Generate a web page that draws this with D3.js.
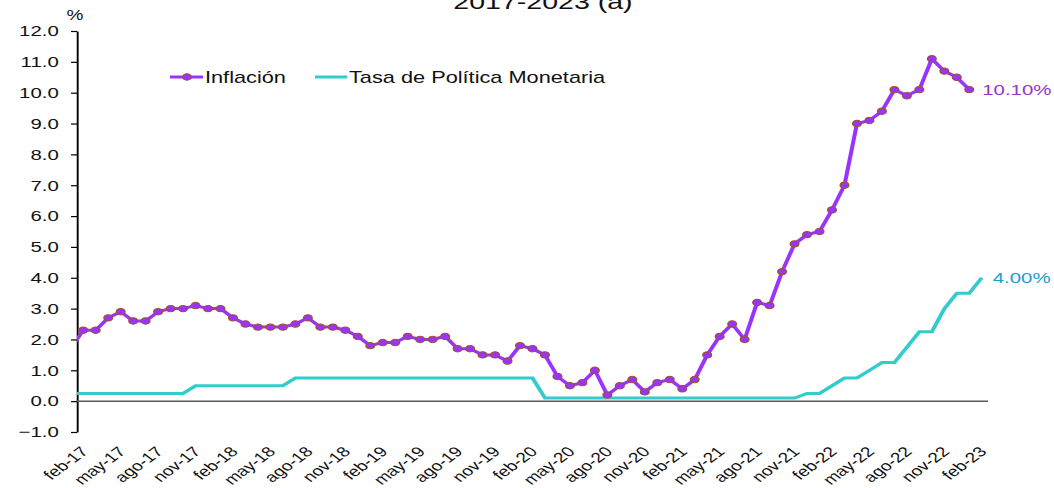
<!DOCTYPE html>
<html>
<head>
<meta charset="utf-8">
<script src="https://cdn.jsdelivr.net/npm/d3@7"></script>
<style>
  body { margin: 0; background: #fff; }
  text { font-family: "Liberation Sans", Arial, sans-serif; fill: #111; }
</style>
</head>
<body>
<script>
const svgWidth = 1054,
    svgHeight = 488,
    SX = 1.36; // the reference chart is stretched horizontally

// months from ene-17 to feb-23
const monthNames = ["ene", "feb", "mar", "abr", "may", "jun", "jul", "ago", "sep", "oct", "nov", "dic"];
const categories = [];
for (let yy = 17; yy <= 23; yy++) monthNames.forEach(m => categories.push(m + "-" + yy));
categories.length = 74;

const tickLabels = ["feb-17", "may-17", "ago-17", "nov-17", "feb-18", "may-18", "ago-18", "nov-18",
    "feb-19", "may-19", "ago-19", "nov-19", "feb-20", "may-20", "ago-20", "nov-20",
    "feb-21", "may-21", "ago-21", "nov-21", "feb-22", "may-22", "ago-22", "nov-22", "feb-23"];

const yTicks = [-1, 0, 1, 2, 3, 4, 5, 6, 7, 8, 9, 10, 11, 12];

// Inflación, ene-17 .. ene-23
const inflacion = [
    1.7, 2.3, 2.3, 2.7, 2.9, 2.6, 2.6, 2.9, 3.0, 3.0, 3.1, 3.0,
    3.0, 2.7, 2.5, 2.4, 2.4, 2.4, 2.5, 2.7, 2.4, 2.4, 2.3, 2.1,
    1.8, 1.9, 1.9, 2.1, 2.0, 2.0, 2.1, 1.7, 1.7, 1.5, 1.5, 1.3,
    1.8, 1.7, 1.5, 0.8, 0.5, 0.6, 1.0, 0.2, 0.5, 0.7, 0.3, 0.6,
    0.7, 0.4, 0.7, 1.5, 2.1, 2.5, 2.0, 3.2, 3.1, 4.2, 5.1, 5.4,
    5.5, 6.2, 7.0, 9.0, 9.1, 9.4, 10.1, 9.9, 10.1, 11.1, 10.7, 10.5,
    10.1
];

// Tasa de Política Monetaria, ene-17 .. feb-23
const tpm = [
    0.25, 0.25, 0.25, 0.25, 0.25, 0.25, 0.25, 0.25, 0.25, 0.25, 0.5, 0.5,
    0.5, 0.5, 0.5, 0.5, 0.5, 0.5, 0.75, 0.75, 0.75, 0.75, 0.75, 0.75,
    0.75, 0.75, 0.75, 0.75, 0.75, 0.75, 0.75, 0.75, 0.75, 0.75, 0.75, 0.75,
    0.75, 0.75, 0.1, 0.1, 0.1, 0.1, 0.1, 0.1, 0.1, 0.1, 0.1, 0.1,
    0.1, 0.1, 0.1, 0.1, 0.1, 0.1, 0.1, 0.1, 0.1, 0.1, 0.1, 0.25,
    0.25, 0.5, 0.75, 0.75, 1.0, 1.25, 1.25, 1.75, 2.25, 2.25, 3.0, 3.5,
    3.5, 4.0
];

const colInfl = "#9933ff",
    colMarker = "#a0522d",
    colTpm = "#33cccc";

var svg = d3.select("body").append("svg")
    .attr("width", svgWidth)
    .attr("height", svgHeight);

var g = svg.append("g").attr("transform", "scale(" + SX + ",1)");

var x = d3.scaleLinear()
    .domain([0.5, categories.length - 0.5])
    .range([77 / SX, 988 / SX]);

var y = d3.scaleLinear()
    .domain([-1, 12])
    .range([432, 31]);

// title (cut off at the top in the reference)
g.append("text")
    .attr("x", 543 / SX)
    .attr("y", 9)
    .attr("text-anchor", "middle")
    .style("font-size", "21px")
    .text("2017-2023 (a)");

g.append("text")
    .attr("x", 75 / SX)
    .attr("y", 20)
    .attr("text-anchor", "middle")
    .style("font-size", "14px")
    .text("%");

// y axis
var yAxis = g.append("g")
    .attr("transform", "translate(" + x.range()[0] + ",0)")
    .call(d3.axisLeft(y).tickValues(yTicks).tickFormat(d3.format(".1f"))
        .tickSize(6 / SX).tickPadding(9).tickSizeOuter(0));
yAxis.select(".domain").attr("stroke", "#000").attr("stroke-width", 1.4);
yAxis.selectAll(".tick line").attr("stroke", "#000").attr("stroke-width", 1.2);
yAxis.selectAll("text").style("font-size", "15px").attr("fill", "#111");

// zero line
g.append("line")
    .attr("x1", x.range()[0]).attr("x2", x.range()[1])
    .attr("y1", y(0)).attr("y2", y(0))
    .attr("stroke", "#595959").attr("stroke-width", 1.5);

// x labels
g.append("g").selectAll("text")
    .data(tickLabels).enter()
    .append("text")
    .attr("transform", function (d) {
        return "translate(" + (x(categories.indexOf(d)) + 1) + ",449) rotate(-45)";
    })
    .attr("text-anchor", "end")
    .attr("dy", "0.35em")
    .style("font-size", "14px")
    .text(d => d);

// series
g.append("clipPath").attr("id", "plot")
    .append("rect")
    .attr("x", x.range()[0]).attr("y", 0)
    .attr("width", x.range()[1] - x.range()[0]).attr("height", svgHeight);

var line = d3.line().x((d, i) => x(i)).y(d => y(d));

var series = g.append("g").attr("clip-path", "url(#plot)");

series.append("path")
    .datum(tpm)
    .attr("d", line)
    .attr("fill", "none")
    .attr("stroke", colTpm)
    .attr("stroke-width", 3);

series.append("path")
    .datum(inflacion)
    .attr("d", line)
    .attr("fill", "none")
    .attr("stroke", colInfl)
    .attr("stroke-width", 3);

series.selectAll("circle")
    .data(inflacion).enter()
    .append("circle")
    .attr("cx", (d, i) => x(i))
    .attr("cy", d => y(d))
    .attr("r", 3.2)
    .attr("fill", colInfl)
    .attr("stroke", colMarker)
    .attr("stroke-width", 1);

// end labels
var lastI = inflacion.length - 1,
    lastT = tpm.length - 1;
g.append("text")
    .attr("x", x(lastI) + 13 / SX)
    .attr("y", y(inflacion[lastI]))
    .attr("dy", "0.35em")
    .style("font-size", "15px")
    .style("fill", "#9933cc")
    .text(d3.format(".2f")(inflacion[lastI]) + "%");

g.append("text")
    .attr("x", x(lastT) + 11 / SX)
    .attr("y", y(tpm[lastT]))
    .attr("dy", "0.35em")
    .style("font-size", "15px")
    .style("fill", "#1a9fd0")
    .text(d3.format(".2f")(tpm[lastT]) + "%");

// legend
var legend = g.append("g").attr("transform", "translate(0,77)");
legend.append("line")
    .attr("x1", 170 / SX).attr("x2", 203 / SX)
    .attr("stroke", colInfl).attr("stroke-width", 3);
legend.append("circle")
    .attr("cx", 187 / SX).attr("r", 3.2)
    .attr("fill", colInfl).attr("stroke", colMarker).attr("stroke-width", 1);
legend.append("text")
    .attr("x", 205 / SX).attr("dy", "0.35em")
    .style("font-size", "16px")
    .text("Inflación");
legend.append("line")
    .attr("x1", 315 / SX).attr("x2", 347 / SX)
    .attr("stroke", colTpm).attr("stroke-width", 3);
legend.append("text")
    .attr("x", 349 / SX).attr("dy", "0.35em")
    .style("font-size", "16px")
    .text("Tasa de Política Monetaria");
</script>
</body>
</html>
